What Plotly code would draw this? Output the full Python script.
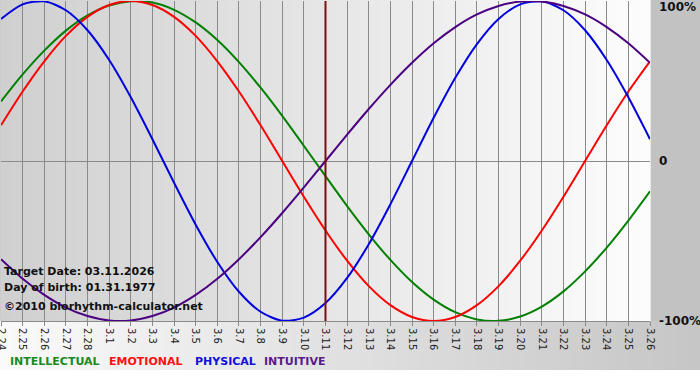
import plotly.graph_objects as go

dates = ["2.24", "2.25", "2.26", "2.27", "2.28", "3.1", "3.2", "3.3", "3.4", "3.5", "3.6",
         "3.7", "3.8", "3.9", "3.10", "3.11", "3.12", "3.13", "3.14", "3.15", "3.16",
         "3.17", "3.18", "3.19", "3.20", "3.21", "3.22", "3.23", "3.24", "3.25", "3.26"]

intellectual = [0.372, 0.541, 0.690, 0.815, 0.910, 0.972, 0.999, 0.990, 0.945, 0.866, 0.756,
                0.618, 0.458, 0.282, 0.095, -0.095, -0.282, -0.458, -0.618, -0.756, -0.866,
                -0.945, -0.990, -0.999, -0.972, -0.910, -0.815, -0.690, -0.541, -0.372, -0.189]
emotional = [0.223, 0.434, 0.623, 0.782, 0.901, 0.975, 1.0, 0.975, 0.901, 0.782, 0.623,
             0.434, 0.223, 0.0, -0.223, -0.434, -0.623, -0.782, -0.901, -0.975, -1.0,
             -0.975, -0.901, -0.782, -0.623, -0.434, -0.223, 0.0, 0.223, 0.434, 0.623]
physical = [0.888, 0.979, 0.998, 0.942, 0.817, 0.631, 0.398, 0.136, -0.136, -0.398, -0.631,
            -0.817, -0.942, -0.998, -0.979, -0.888, -0.731, -0.520, -0.270, 0.0, 0.270,
            0.520, 0.731, 0.888, 0.979, 0.998, 0.942, 0.817, 0.631, 0.398, 0.136]
intuitive = [-0.614, -0.736, -0.837, -0.916, -0.969, -0.997, -0.997, -0.969, -0.916, -0.837, -0.736,
             -0.614, -0.476, -0.325, -0.165, 0.0, 0.165, 0.325, 0.476, 0.614, 0.736,
             0.837, 0.916, 0.969, 0.997, 0.997, 0.969, 0.916, 0.837, 0.736, 0.614]

series_names = ["INTELLECTUAL", "EMOTIONAL", "PHYSICAL", "INTUITIVE"]
series_colors = ["#008000", "#ff0000", "#0000e0", "#4b0082"]
legend_colors = ["#1a8a1a", "#ff1010", "#1010e0", "#5a1a8a"]
target_label = "3.11"
y_labels = ["100%", "0", "-100%"]
info_lines = ["Target Date: 03.11.2026", "Day of birth: 01.31.1977", "©2010 biorhythm-calculator.net"]

W, H = 700, 380
ML, MR, MT, MB = 1, 50, 1, 59
PW, PH = W - ML - MR, H - MT - MB

x = list(range(len(dates)))
fig = go.Figure()
for name, vals, col in zip(series_names, [intellectual, emotional, physical, intuitive], series_colors):
    fig.add_trace(go.Scatter(x=x, y=vals, mode="lines", name=name,
                             line=dict(color=col, width=2, shape="spline", smoothing=0.8),
                             hoverinfo="skip", showlegend=False))

shapes = []

def lerp(c1, c2, t):
    return "rgb(%d,%d,%d)" % tuple(round(a + (b - a) * t) for a, b in zip(c1, c2))

# plot area gradient (left dark -> right light)
N = 60
for k in range(N):
    t = k / (N - 1)
    shapes.append(dict(type="rect", xref="paper", yref="paper",
                       x0=k / N - 0.001, x1=(k + 1) / N + 0.001,
                       y0=0, y1=1.01, fillcolor=lerp((208, 208, 208), (252, 252, 252), t),
                       line=dict(width=0), layer="below"))
# bottom band gradient (left light -> right dark)
for k in range(N):
    t = k / (N - 1)
    shapes.append(dict(type="rect", xref="paper", yref="paper",
                       x0=(-ML + W * k / N) / PW - 0.001,
                       x1=(-ML + W * (k + 1) / N) / PW + 0.001,
                       y0=-(MB - 10) / PH, y1=0,
                       fillcolor=lerp((250, 250, 250), (198, 198, 198), t),
                       line=dict(width=0), layer="below"))
# white strip at bottom
shapes.append(dict(type="rect", xref="paper", yref="paper", x0=-0.01, x1=1.1,
                   y0=-MB / PH - 0.01, y1=-(MB - 10) / PH,
                   fillcolor="#ffffff", line=dict(width=0), layer="below"))
# target date line
ti = dates.index(target_label)
shapes.append(dict(type="line", xref="x", yref="paper", x0=ti, x1=ti, y0=0, y1=1,
                   line=dict(color="#7a1010", width=2), layer="above"))

annotations = []
for lbl, yv in zip(y_labels, [1, 0, -1]):
    annotations.append(dict(xref="paper", yref="y", x=1.0, y=yv, xshift=7,
                            yshift=-6 if yv == 1 else 0,
                            text="<b>%s</b>" % lbl, showarrow=False, xanchor="left", yanchor="middle",
                            font=dict(family="DejaVu Sans", size=12, color="#111")))
for i, line in enumerate(info_lines):
    ys = [271, 287, 306][i]
    annotations.append(dict(xref="paper", yref="paper", x=(2 - ML) / PW,
                            y=(H - MB - ys) / PH,
                            text="<b>%s</b>" % line, showarrow=False, xanchor="left", yanchor="middle",
                            font=dict(family="DejaVu Sans", size=11, color="#111")))
leg_x = [8, 107, 193, 262]
for nm, col, lx in zip(series_names, legend_colors, leg_x):
    annotations.append(dict(xref="paper", yref="paper", x=(lx - ML) / PW,
                            y=(H - MB - 361) / PH,
                            text="<b>%s</b>" % nm, showarrow=False, xanchor="left", yanchor="middle",
                            font=dict(family="DejaVu Sans", size=11, color=col)))

fig.update_layout(
    width=W, height=H, margin=dict(l=ML, r=MR, t=MT, b=MB, autoexpand=False),
    paper_bgcolor="#c2c2c2", plot_bgcolor="rgba(0,0,0,0)",
    shapes=shapes, annotations=annotations,
    xaxis=dict(range=[0, 30], tickmode="array", tickvals=x, ticktext=dates, tickangle=90,
               automargin=False, ticklabeloverflow="allow",
               showgrid=True, gridcolor="#8a8a8a", gridwidth=1, ticks="outside", ticklen=4,
               tickcolor="#8a8a8a", tickfont=dict(family="DejaVu Sans", size=10, color="#222"),
               showline=True, linecolor="#8a8a8a", zeroline=False, fixedrange=True),
    yaxis=dict(range=[-1, 1], showticklabels=False, showgrid=False, zeroline=True,
               automargin=False,
               zerolinecolor="#8a8a8a", zerolinewidth=1, fixedrange=True),
)

fig.write_html("out.html", config={"displayModeBar": False},
               post_script="document.body.style.margin='0';document.body.style.overflow='hidden';")
